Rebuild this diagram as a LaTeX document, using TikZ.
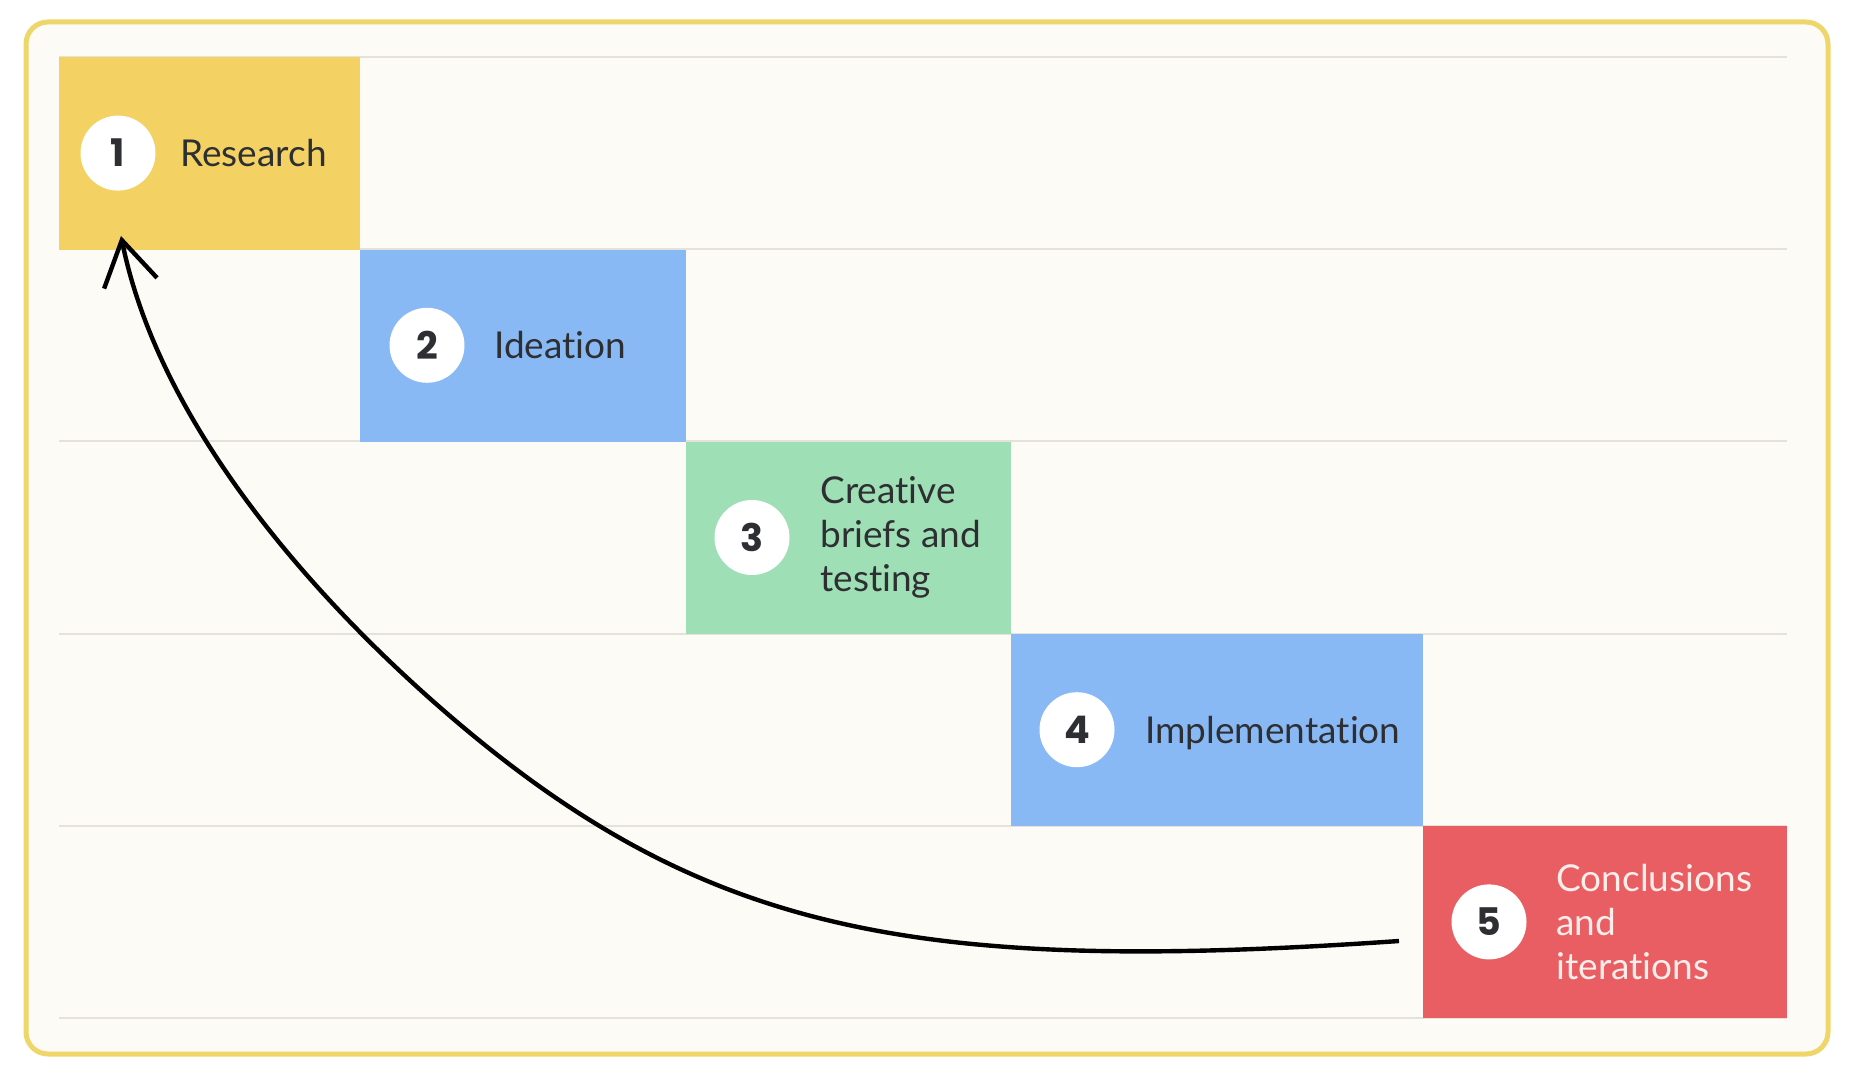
\documentclass[tikz,border=0pt]{standalone}
\usepackage{fontspec}
\setmainfont{Lato}[Ligatures={NoCommon,NoRare}]
\newfontfamily\digitfont{Poppins}
\usetikzlibrary{arrows.meta}
\tikzset{>={Straight Barb[length=22pt,width=27pt]}}
\definecolor{research}{HTML}{F3D163}
\definecolor{ideation}{HTML}{88B9F5}
\definecolor{testing}{HTML}{9FDFB5}
\definecolor{conclude}{HTML}{E95E63}
\definecolor{paper}{HTML}{FDFBF6}
\definecolor{frame}{HTML}{EED66A}
\definecolor{rule}{HTML}{E5E2DB}
\definecolor{ink}{HTML}{2E2F33}
\definecolor{pale}{HTML}{FCEEEA}

\begin{document}
\begin{tikzpicture}
    [
      x=0.5pt, y=-0.5pt,
      stage/.style={rectangle, anchor=north west, inner sep=0pt, minimum height=96.1pt},
      num/.style={circle, fill=white, minimum size=37.5pt, inner sep=0pt, text=ink, font=\digitfont\bfseries\fontsize{19}{19}\selectfont},
      caption/.style={anchor=west, inner sep=0pt, align=left, text=ink, font=\fontsize{18.5}{22}\selectfont},
      arr/.style={->, draw, line width=2.2pt}
    ]
    \useasboundingbox [fill=white] (0,0) rectangle (1850,1074);
    \draw [frame, fill=paper, line width=2.5pt, rounded corners=11pt] (26,22) rectangle (1828,1054);
    \foreach \k in {0,...,5}
      \draw [rule, line width=1pt] (59,57+192.2*\k) -- (1787,57+192.2*\k);

    \node (box-1) [stage, fill=research, minimum width=150.5pt] at (59,57) {};
    \node (box-2) [stage, fill=ideation, minimum width=163pt] at (360,249.2) {};
    \node (box-3) [stage, fill=testing, minimum width=162.5pt] at (686,441.4) {};
    \node (box-4) [stage, fill=ideation, minimum width=206pt] at (1011,633.6) {};
    \node (box-5) [stage, fill=conclude, minimum width=182pt] at (1423,825.8) {};

    \node (num-1) [num] at (118,153.1) {1};
    \node (num-2) [num] at (427,345.3) {2};
    \node (num-3) [num] at (752,537.5) {3};
    \node (num-4) [num] at (1077,729.7) {4};
    \node (num-5) [num] at (1489,921.9) {5};

    \node (txt-1) [caption, text depth=0pt] at (180,153.1) {Research};
    \node (txt-2) [caption, text depth=0pt] at (494,345.3) {Ideation};
    \node (txt-3) [caption] at (820,537.5) {Creative\\briefs and\\testing};
    \node (txt-4) [caption, text depth=0pt] at (1145,729.7) {Implementation};
    \node (txt-5) [caption, text=pale] at (1556,921.9) {Conclusions\\and\\iterations};

    \coordinate (loop-start) at (1399,941);
    \coordinate (loop-bend) at (500,757);
    \coordinate (loop-end) at (121,236);
    \draw [arr] (loop-start) .. controls (950,972) and (735,940) .. (loop-bend)
      .. controls (382,665) and (167,463) .. (loop-end);
  \end{tikzpicture}
\end{document}
